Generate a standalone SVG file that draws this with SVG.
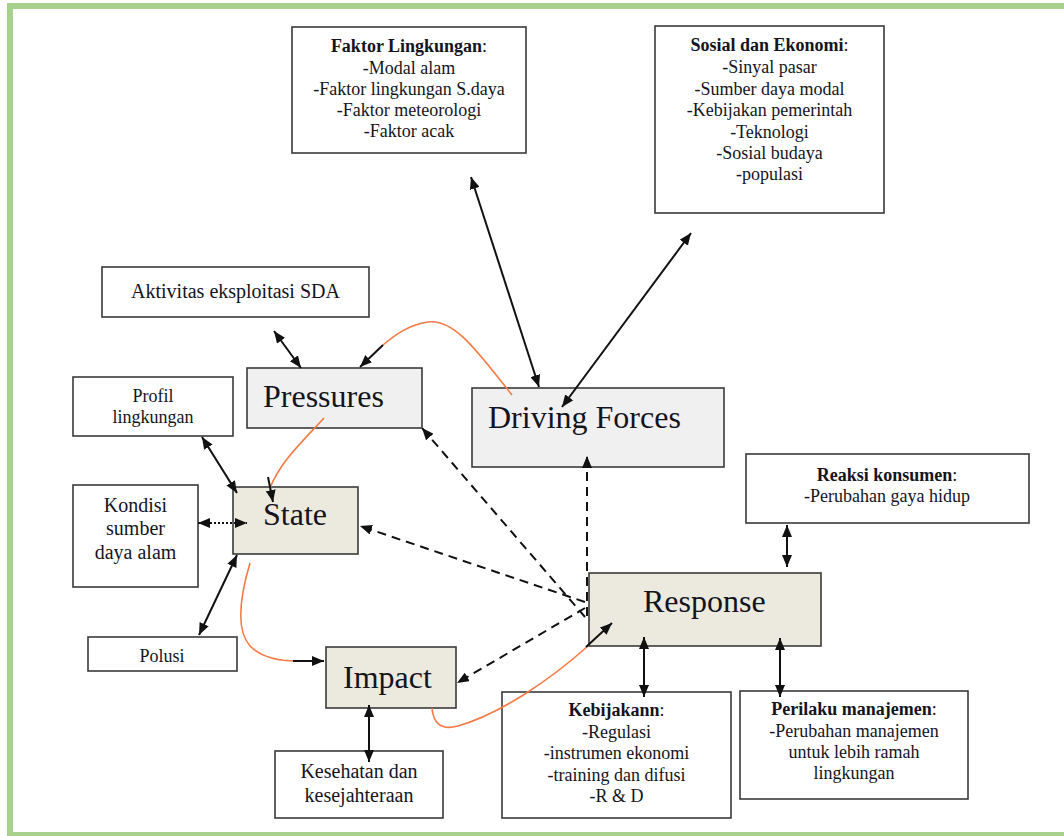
<svg xmlns="http://www.w3.org/2000/svg" width="1064" height="836" viewBox="0 0 1064 836">
<style>
.box{fill:#fff;stroke:#3a3a3a;stroke-width:1.6}
.grey{fill:#f0f0f0;stroke:#3a3a3a;stroke-width:1.6}
.beige{fill:#ece9df;stroke:#3a3a3a;stroke-width:1.6}
text{font-family:"Liberation Serif","Times New Roman",serif;fill:#14141e}
.s{font-size:18px;text-anchor:middle}
.m{font-size:20px;text-anchor:middle}
.big{font-size:32px}
.b{font-weight:bold}
.ln{stroke:#111;stroke-width:2;fill:none}
.dash{stroke:#111;stroke-width:2;fill:none;stroke-dasharray:9 6}
.dot{stroke:#111;stroke-width:2;fill:none;stroke-dasharray:2 2}
.or{stroke:#f47a45;stroke-width:1.6;fill:none}
</style>
<defs>
<marker id="ah" viewBox="0 0 12 10" refX="12" refY="5" markerWidth="12" markerHeight="10" markerUnits="userSpaceOnUse" orient="auto-start-reverse">
<path d="M0,0 L12,5 L0,10 z" fill="#111"/>
</marker>
</defs>
<rect x="10" y="6" width="1080" height="829" fill="none" stroke="#a9d18e" stroke-width="6"/>

<g id="faktor">
<rect class="box" x="292" y="27" width="234" height="126"/>
<text class="s" x="409" y="52"><tspan class="b">Faktor Lingkungan</tspan>:</text>
<text class="s" x="409" y="74">-Modal alam</text>
<text class="s" x="409" y="95">-Faktor lingkungan S.daya</text>
<text class="s" x="409" y="116">-Faktor meteorologi</text>
<text class="s" x="409" y="137">-Faktor acak</text>
</g>
<g id="sosial">
<rect class="box" x="655" y="26" width="229" height="187"/>
<text class="s" x="769.5" y="51"><tspan class="b">Sosial dan Ekonomi</tspan>:</text>
<text class="s" x="769.5" y="73">-Sinyal pasar</text>
<text class="s" x="769.5" y="95">-Sumber daya modal</text>
<text class="s" x="769.5" y="116">-Kebijakan pemerintah</text>
<text class="s" x="769.5" y="138">-Teknologi</text>
<text class="s" x="769.5" y="159">-Sosial budaya</text>
<text class="s" x="769.5" y="180">-populasi</text>
</g>
<g id="aktivitas">
<rect class="box" x="102" y="267" width="267" height="50"/>
<text class="m" x="235.5" y="298">Aktivitas eksploitasi SDA</text>
</g>
<g id="pressures">
<rect class="grey" x="247" y="368" width="175" height="60"/>
<text class="big" x="263" y="407">Pressures</text>
</g>
<g id="profil">
<rect class="box" x="73" y="377" width="160" height="59"/>
<text class="s" x="153" y="402">Profil</text>
<text class="s" x="153" y="423">lingkungan</text>
</g>
<g id="driving">
<rect class="grey" x="472" y="388" width="252" height="79"/>
<text class="big" x="488" y="428">Driving Forces</text>
</g>
<g id="state">
<rect class="beige" x="233" y="487" width="125" height="67"/>
<text class="big" x="263" y="525">State</text>
</g>
<g id="kondisi">
<rect class="box" x="73" y="485" width="125" height="102"/>
<text class="m" x="135.5" y="512">Kondisi</text>
<text class="m" x="135.5" y="535">sumber</text>
<text class="m" x="135.5" y="559">daya alam</text>
</g>
<g id="polusi">
<rect class="box" x="88" y="637" width="149" height="34"/>
<text class="s" x="162" y="662">Polusi</text>
</g>
<g id="reaksi">
<rect class="box" x="746" y="454" width="283" height="69"/>
<text class="s" x="887" y="481"><tspan class="b">Reaksi konsumen</tspan>:</text>
<text class="s" x="887" y="502">-Perubahan gaya hidup</text>
</g>
<g id="response">
<rect class="beige" x="589" y="573" width="232" height="73"/>
<text class="big" x="643" y="612">Response</text>
</g>
<g id="impact">
<rect class="beige" x="326" y="647" width="130" height="61"/>
<text class="big" x="343" y="688">Impact</text>
</g>
<g id="kesehatan">
<rect class="box" x="275" y="751" width="168" height="67"/>
<text class="m" x="359" y="778">Kesehatan dan</text>
<text class="m" x="359" y="802">kesejahteraan</text>
</g>
<g id="kebijakan">
<rect class="box" x="502" y="692" width="229" height="126"/>
<text class="s" x="616.5" y="716"><tspan class="b">Kebijakann</tspan>:</text>
<text class="s" x="616.5" y="737.5">-Regulasi</text>
<text class="s" x="616.5" y="759">-instrumen ekonomi</text>
<text class="s" x="616.5" y="780.5">-training dan difusi</text>
<text class="s" x="616.5" y="802">-R &amp; D</text>
</g>
<g id="perilaku">
<rect class="box" x="740" y="691" width="228" height="108"/>
<text class="s" x="854" y="715"><tspan class="b">Perilaku manajemen</tspan>:</text>
<text class="s" x="854" y="737">-Perubahan manajemen</text>
<text class="s" x="854" y="758">untuk lebih ramah</text>
<text class="s" x="854" y="779">lingkungan</text>
</g>

<g id="connectors">
<line class="ln" x1="471" y1="177" x2="539" y2="387" marker-start="url(#ah)" marker-end="url(#ah)"/>
<line class="ln" x1="691" y1="233" x2="562" y2="407" marker-start="url(#ah)" marker-end="url(#ah)"/>
<line class="ln" x1="274" y1="331" x2="301" y2="368" marker-start="url(#ah)" marker-end="url(#ah)"/>
<path class="or" d="M512,395 C480,355 455,318 428,322 C408,325 395,335 383,345"/>
<line class="ln" x1="383" y1="345" x2="360" y2="367" marker-end="url(#ah)"/>
<line class="ln" x1="202" y1="437" x2="237" y2="493" marker-start="url(#ah)" marker-end="url(#ah)"/>
<path class="or" d="M324,418 C302,442 280,462 270,488"/>
<line class="ln" x1="268" y1="477" x2="273" y2="502" marker-end="url(#ah)"/>
<line class="dot" x1="198" y1="523" x2="247" y2="523" marker-start="url(#ah)" marker-end="url(#ah)"/>
<line class="ln" x1="237" y1="555" x2="199" y2="635" marker-start="url(#ah)" marker-end="url(#ah)"/>
<path class="or" d="M250,563 C242,590 234,628 250,646 C262,658 280,661 296,661"/>
<line class="ln" x1="293" y1="661" x2="324" y2="661" marker-end="url(#ah)"/>
<line class="ln" x1="369" y1="705" x2="369" y2="762" marker-start="url(#ah)" marker-end="url(#ah)"/>
<path class="or" d="M432,708 C433,722 440,731 458,726 C500,714 550,680 588,646"/>
<line class="ln" x1="586" y1="647" x2="612" y2="623" marker-end="url(#ah)"/>
<line class="dash" x1="587" y1="616" x2="587" y2="456" marker-end="url(#ah)"/>
<line class="dash" x1="585" y1="617" x2="422" y2="428" marker-end="url(#ah)"/>
<line class="dash" x1="585" y1="602" x2="360" y2="526" marker-end="url(#ah)"/>
<line class="dash" x1="585" y1="608" x2="457" y2="683" marker-end="url(#ah)"/>
<line class="ln" x1="787" y1="525" x2="787" y2="567" marker-start="url(#ah)" marker-end="url(#ah)"/>
<line class="ln" x1="644" y1="637" x2="644" y2="697" marker-start="url(#ah)" marker-end="url(#ah)"/>
<line class="ln" x1="780" y1="638" x2="780" y2="697" marker-start="url(#ah)" marker-end="url(#ah)"/>
</g>
</svg>
